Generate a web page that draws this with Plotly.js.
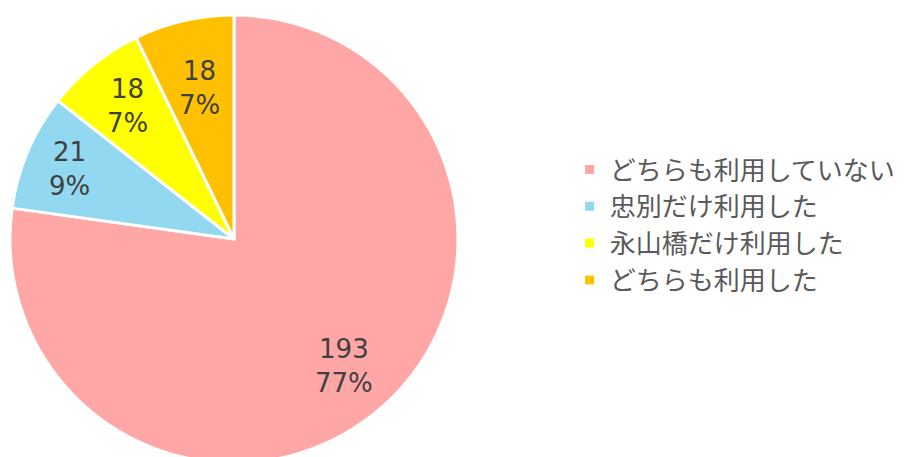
<!DOCTYPE html>
<html><head><meta charset="utf-8">
<script src="https://cdn.plot.ly/plotly-3.0.1.min.js"></script>
<style>html,body{margin:0;padding:0;overflow:hidden;background:#fff}</style>
</head><body>
<div id="chart" style="width:904px;height:470px"></div>
<script>
const categories = ["どちらも利用していない", "忠別だけ利用した", "永山橋だけ利用した", "どちらも利用した"];
const counts = [193, 21, 18, 18];
const percentLabels = ["77%", "9%", "7%", "7%"];
const colors = ["#FFA6A6", "#92D8F0", "#FFFF00", "#FFC000"];

// layout settings
const W = 904, H = 470;
const M = {l: 10, r: 0, t: 15, b: 7};
const plotW = W - M.l - M.r, plotH = H - M.t - M.b;
const R = plotH / 2;                       // pie radius in px
const labelRadius = [0.75, 0.80, 0.76, 0.69]; // fraction of radius for each label

const total = counts.reduce((a, b) => a + b, 0);
const annotations = [];
let cum = 0;
counts.forEach((v, i) => {
  const mid = (cum + v / 2) / total * 2 * Math.PI; // clockwise from 12 o'clock
  cum += v;
  const r = R * labelRadius[i];
  annotations.push({
    xref: "paper", yref: "paper",
    x: (R + r * Math.sin(mid)) / plotW,
    y: 0.5 + r * Math.cos(mid) / plotH,
    xanchor: "center", yanchor: "middle",
    text: v + "<br>" + percentLabels[i],
    showarrow: false,
    font: {family: "DejaVu Sans, sans-serif", size: 26, color: "#404040"}
  });
});

const trace = {
  type: "pie",
  labels: categories,
  values: counts,
  textinfo: "none",
  sort: false,
  direction: "clockwise",
  rotation: 0,
  marker: {colors: colors, line: {color: "#FFFFFF", width: 3}},
  hoverinfo: "none",
  domain: {x: [0, 2 * R / plotW], y: [0, 1]}
};

const layout = {
  width: W, height: H,
  margin: M,
  paper_bgcolor: "#FFFFFF",
  showlegend: true,
  annotations: annotations,
  legend: {
    x: 0.626, y: 0.531, xanchor: "left", yanchor: "middle",
    font: {family: "Noto Sans CJK JP", size: 26, color: "#595959"},
    itemwidth: 30
  }
};
Plotly.newPlot("chart", [trace], layout, {staticPlot: true});
</script>
</body></html>
